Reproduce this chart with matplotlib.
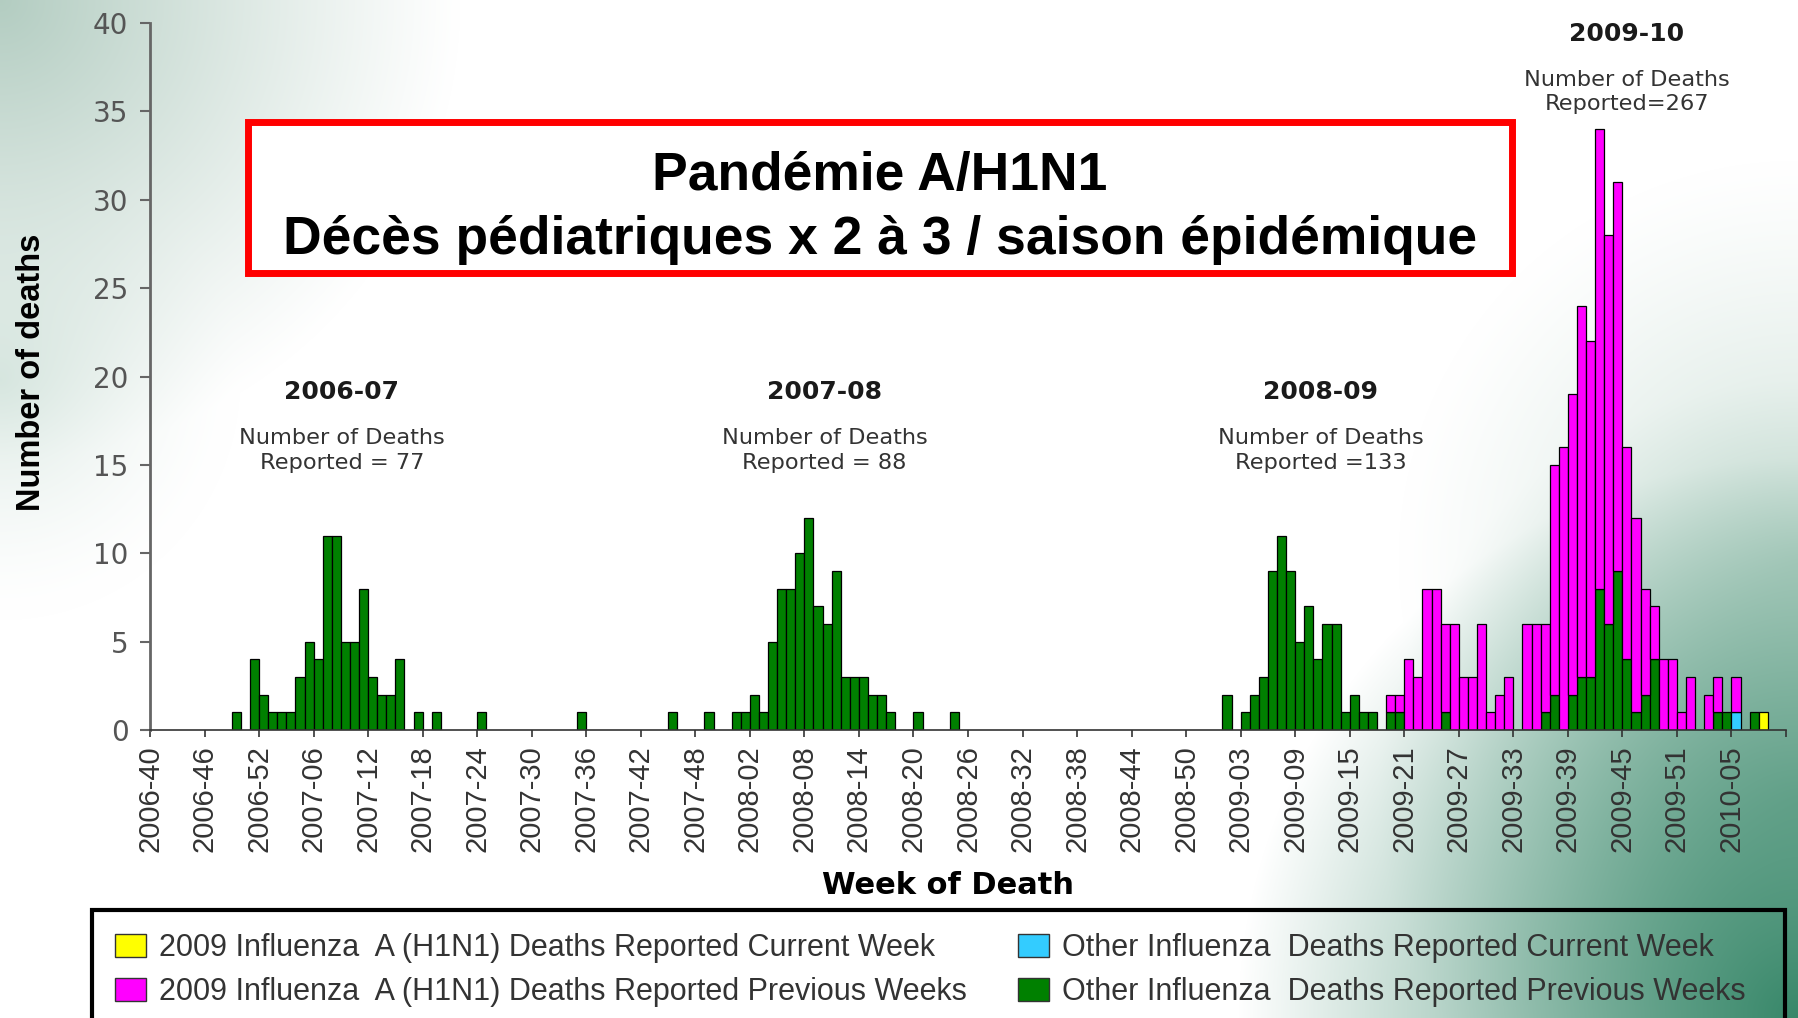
"""
Pediatric influenza deaths by week of death, 2006-07 to 2009-10 seasons
(CDC FluView style), with the French "Pandémie A/H1N1" call-out box.
"""

import numpy as np
import matplotlib
matplotlib.use("Agg")
import matplotlib.pyplot as plt
from matplotlib.patches import Patch, Rectangle


# =============================================================================
# Data
# =============================================================================

# MMWR calendar shown on the x axis: (year, first week, last week)
MMWR_YEARS = [(2006, 40, 52), (2007, 1, 52), (2008, 1, 53), (2009, 1, 52), (2010, 1, 8)]

# Other influenza - deaths reported previous weeks (green), from 2006-40
OTHER_PREV = [
    # 2006 w40-52
    0, 0, 0, 0, 0, 0, 0, 0, 0, 1, 0, 4, 2,
    # 2007 w1-52
    1, 1, 1, 3, 5, 4, 11, 11, 5, 5, 8, 3, 2, 2, 4, 0, 1, 0, 1, 0, 0, 0, 0, 1,
    0, 0, 0, 0, 0, 0, 0, 0, 0, 0, 1, 0, 0, 0, 0, 0, 0, 0, 0, 0, 1, 0, 0, 0,
    1, 0, 0, 1,
    # 2008 w1-53
    1, 2, 1, 5, 8, 8, 10, 12, 7, 6, 9, 3, 3, 3, 2, 2, 1, 0, 0, 1, 0, 0, 0, 1,
    0, 0, 0, 0, 0, 0, 0, 0, 0, 0, 0, 0, 0, 0, 0, 0, 0, 0, 0, 0, 0, 0, 0, 0,
    0, 0, 0, 0, 0,
    # 2009 w1-52
    2, 0, 1, 2, 3, 9, 11, 9, 5, 7, 4, 6, 6, 1, 2, 1, 1, 0, 1, 1, 0, 0, 0, 0,
    1, 0, 0, 0, 0, 0, 0, 0, 0, 0, 0, 1, 2, 0, 2, 3, 3, 8, 6, 9, 4, 1, 2, 4,
    0, 0, 0, 0,
    # 2010 w1-8
    0, 0, 1, 1, 0, 0, 1, 0,
]

# Other influenza - deaths reported current week (cyan), from 2010-01
OTHER_CURR_START = "2010-01"
OTHER_CURR = [0, 0, 0, 0, 1, 0, 0, 0]

# 2009 influenza A (H1N1) - deaths reported previous weeks (magenta), from 2009-19
H1N1_PREV_START = "2009-19"
H1N1_PREV = [
    1, 1, 4, 3, 8, 8, 5, 6, 3, 3, 6, 1, 2, 3, 0, 6, 6, 5, 13, 16, 17, 21, 19, 26,
    22, 22, 12, 11, 6, 3, 4, 4, 1, 3,
    0, 2, 2, 0, 2, 0, 0, 0,
]

# 2009 influenza A (H1N1) - deaths reported current week (yellow), from 2010-01
H1N1_CURR_START = "2010-01"
H1N1_CURR = [0, 0, 0, 0, 0, 0, 0, 1]

SEASON_LABELS = ["2006-07", "2007-08", "2008-09", "2009-10"]
SEASON_NOTES = ["Number of Deaths\nReported = 77", "Number of Deaths\nReported = 88",
                "Number of Deaths\nReported =133", "Number of Deaths\nReported=267"]

LEGEND_LABELS = [
    "2009 Influenza  A (H1N1) Deaths Reported Current Week",
    "2009 Influenza  A (H1N1) Deaths Reported Previous Weeks",
    "Other Influenza  Deaths Reported Current Week",
    "Other Influenza  Deaths Reported Previous Weeks",
]

TITLE_LINES = ["Pandémie A/H1N1", "Décès pédiatriques x 2 à 3 / saison épidémique"]


# =============================================================================
# Helpers
# =============================================================================

W_PX, H_PX = 1798, 1018
GREEN, CYAN, MAGENTA, YELLOW = "#008000", "#33ccff", "#ff00ff", "#ffff00"


def week_labels():
    labels = []
    for year, first, last in MMWR_YEARS:
        labels += [f"{year}-{w:02d}" for w in range(first, last + 1)]
    return labels


def align(values, start, weeks):
    out = np.zeros(len(weeks))
    i = weeks.index(start)
    out[i:i + len(values)] = values
    return out


def fx(px):
    return px / W_PX


def fy(px):
    return 1 - px / H_PX


def background():
    """Soft green slide texture: pale top-left, deep green bottom-right."""
    yy, xx = np.mgrid[0:H_PX, 0:W_PX]
    img = np.ones((H_PX, W_PX, 3))

    def blend(cx, cy, r, rgb, strength, power=1.5):
        d = np.hypot(xx - cx, yy - cy)
        t = (np.clip(1 - d / r, 0, 1) ** power * strength)[..., None]
        img[:] = img * (1 - t) + np.array(rgb) / 255 * t

    blend(0, 0, 460, (175, 202, 190), 0.95, 1.1)
    blend(0, 380, 240, (195, 218, 208), 0.6)
    blend(1798, 560, 400, (185, 212, 200), 0.7, 1.2)
    blend(1798, 800, 420, (130, 180, 160), 0.7, 1.1)
    blend(1798, 1018, 560, (55, 135, 105), 1.0, 1.0)
    return img


# =============================================================================
# Plot
# =============================================================================

def main():
    weeks = week_labels()
    x = np.arange(len(weeks))

    series = [
        (np.array(OTHER_PREV, dtype=float), GREEN),
        (align(OTHER_CURR, OTHER_CURR_START, weeks), CYAN),
        (align(H1N1_PREV, H1N1_PREV_START, weeks), MAGENTA),
        (align(H1N1_CURR, H1N1_CURR_START, weeks), YELLOW),
    ]

    fig = plt.figure(figsize=(W_PX / 100, H_PX / 100), dpi=100)

    bg = fig.add_axes([0, 0, 1, 1], zorder=-5)
    bg.imshow(background(), aspect="auto", interpolation="bilinear")
    bg.axis("off")

    ax = fig.add_axes([fx(150), fy(730), fx(1786) - fx(150), (730 - 23) / H_PX])
    ax.set_facecolor("none")

    bottom = np.zeros(len(weeks))
    for vals, color in series:
        m = vals > 0
        ax.bar(x[m], vals[m], width=1.0, bottom=bottom[m], align="edge",
               color=color, edgecolor="black", linewidth=0.9)
        bottom += vals

    ax.set_xlim(0, 180)
    ax.set_ylim(0, 40)

    ticks = list(range(0, 181, 6))
    ax.set_xticks(ticks)
    ax.set_xticklabels([weeks[i] if i < len(weeks) else "" for i in ticks],
                       rotation=90, fontsize=21, family="Liberation Sans", color="#333333")
    ax.tick_params(axis="x", length=5, width=1.2, color="#333333", pad=6)

    ax.set_yticks(range(0, 41, 5))
    ax.set_yticklabels([str(v) for v in range(0, 41, 5)],
                       fontsize=20, family="DejaVu Sans", color="#555555")
    ax.tick_params(axis="y", length=7.5, width=1.5, color="#666666", pad=8)

    for side in ("top", "right"):
        ax.spines[side].set_visible(False)
    ax.spines["left"].set_color("#666666")
    ax.spines["left"].set_linewidth(2.0)
    ax.spines["bottom"].set_color("#333333")
    ax.spines["bottom"].set_linewidth(1.2)

    ax.set_ylabel("Number of deaths", fontsize=23.5, fontweight="bold",
                  family="Liberation Sans", color="black")
    ax.yaxis.set_label_coords((32 - 150) / 1636, (730 - 372) / 707)
    ax.yaxis.label.set_verticalalignment("center")

    ax.set_xlabel("Week of Death", fontsize=22, fontweight="bold",
                  family="DejaVu Sans", color="black")
    ax.xaxis.set_label_coords((948 - 150) / 1636, (730 - 886) / 707)
    ax.xaxis.label.set_verticalalignment("center")

    # season annotations (data coordinates)
    label_pos = [(21.1, 19.1), (74.2, 19.1), (128.8, 19.1), (162.5, 39.4)]
    for (sx, sy), name, note in zip(label_pos, SEASON_LABELS, SEASON_NOTES):
        ax.text(sx, sy, name, ha="center", va="center", fontsize=18,
                fontweight="bold", family="DejaVu Sans", color="#1a1a1a")
        ax.text(sx, sy - 3.3, note, ha="center", va="center", fontsize=16.2,
                family="DejaVu Sans", color="#333333", linespacing=1.3)

    # red call-out box
    fig.patches.append(Rectangle((fx(248), fy(273)), fx(1512) - fx(248), (273 - 122) / H_PX,
                                 transform=fig.transFigure, facecolor="white",
                                 edgecolor="#ff0000", linewidth=5))
    for line, base in zip(TITLE_LINES, (190, 254)):
        fig.text(fx(880), fy(base), line, ha="center", va="baseline", fontsize=38.4,
                 fontweight="bold", family="Liberation Sans", color="black")

    # legend: frame + two columns
    fig.patches.append(Rectangle((fx(92), -0.05), fx(1785) - fx(92), 0.05 + fy(910),
                                 transform=fig.transFigure, fill=False,
                                 edgecolor="black", linewidth=3))
    handles = [Patch(facecolor=c, edgecolor="#333333", linewidth=1)
               for c in (YELLOW, MAGENTA, CYAN, GREEN)]
    for cols, left in (((0, 1), 115), ((2, 3), 1018)):
        fig.legend([handles[i] for i in cols], [LEGEND_LABELS[i] for i in cols],
                   loc="upper left", bbox_to_anchor=(fx(left), fy(933)),
                   frameon=False, borderpad=0, borderaxespad=0,
                   handlelength=1.0, handleheight=0.8, handletextpad=0.45,
                   labelspacing=0.46, labelcolor="#333333",
                   prop={"family": "Liberation Sans", "size": 22})

    fig.savefig("out.png", dpi=100)


if __name__ == "__main__":
    main()
